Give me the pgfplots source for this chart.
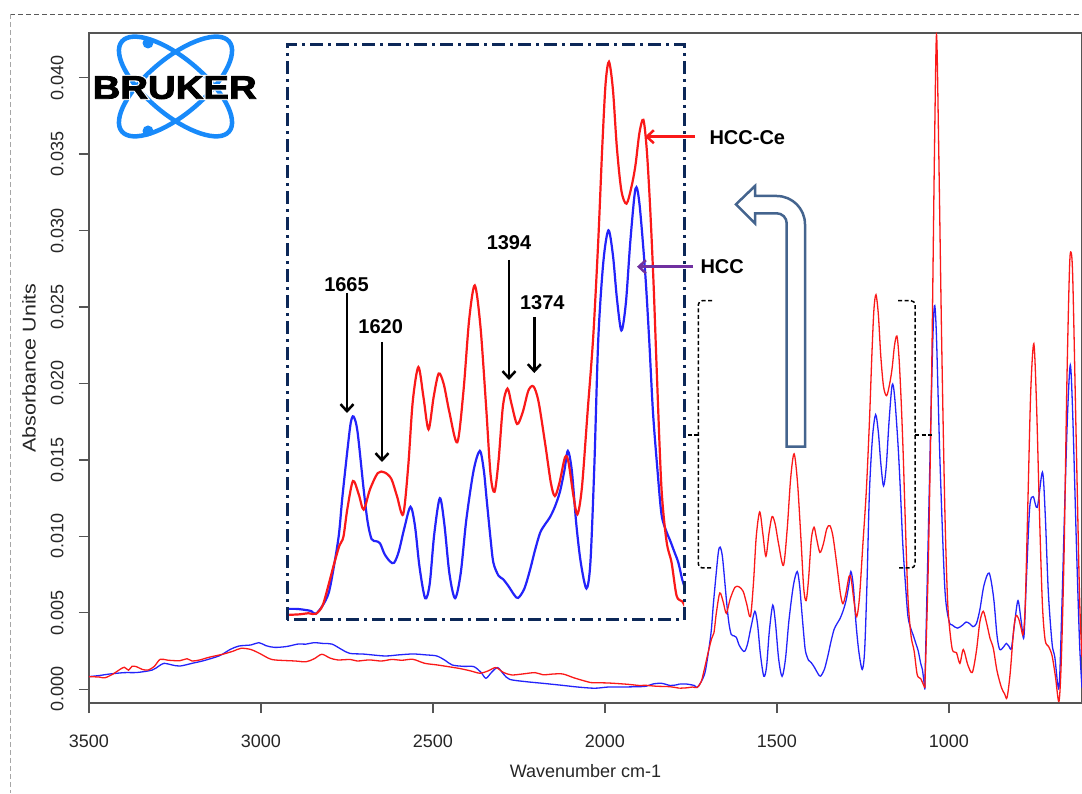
\documentclass[border=0pt]{standalone}
\usepackage{pgfplots}
\pgfplotsset{compat=1.18}
\usepackage{pgfplotstable}
\usepackage{fontspec}
\setmainfont{Liberation Sans}
\newfontface\logofont[RawFeature={embolden=2.5}]{Liberation Sans Bold}
\newfontface\logoback[RawFeature={embolden=9}]{Liberation Sans Bold}
\usetikzlibrary{arrows.meta}

\definecolor{specred}{RGB}{250,25,25}
\definecolor{specblue}{RGB}{35,35,250}
\definecolor{axisgray}{RGB}{85,85,85}
\definecolor{insetnavy}{RGB}{12,40,88}
\definecolor{steel}{RGB}{68,100,142}
\definecolor{hccpurple}{RGB}{112,48,160}
\definecolor{logoblue}{RGB}{24,138,250}

% HCC-Ce (red) and HCC (blue): wavenumber, absorbance
\pgfplotstableread{
w a
3500 0.00083
3470 0.00080
3454 0.00075
3430 0.00100
3410 0.00130
3397 0.00144
3385 0.00125
3375 0.00150
3362 0.00148
3345 0.00130
3328 0.00126
3310 0.00150
3293 0.00196
3270 0.00190
3236 0.00187
3215 0.00200
3200 0.00185
3178 0.00192
3150 0.00210
3110 0.00230
3080 0.00250
3058 0.00268
3029 0.00260
3000 0.00230
2980 0.00205
2960 0.00192
2900 0.00185
2869 0.00180
2845 0.00200
2823 0.00229
2800 0.00205
2777 0.00192
2740 0.00195
2720 0.00185
2685 0.00192
2650 0.00185
2620 0.00195
2590 0.00190
2558 0.00196
2524 0.00170
2490 0.00160
2455 0.00148
2420 0.00135
2390 0.00120
2363 0.00105
2340 0.00120
2317 0.00142
2295 0.00110
2271 0.00094
2240 0.00100
2203 0.00109
2180 0.00095
2150 0.00100
2122 0.00100
2090 0.00075
2060 0.00055
2042 0.00044
2000 0.00042
1973 0.00039
1930 0.00032
1900 0.00025
1881 0.00026
1850 0.00020
1812 0.00017
1783 0.00007
}\redA

\pgfplotstableread{
w a
1783 0.00007
1760 0.00010
1745 0.00015
1732 0.00012
1720 0.00050
1709 0.00150
1700 0.00240
1690 0.00330
1683 0.00370
1676 0.00500
1666 0.00630
1656 0.00570
1647 0.00497
1636 0.00590
1622 0.00667
1610 0.00670
1598 0.00640
1588 0.00560
1577 0.00475
1568 0.00700
1560 0.01000
1550 0.01160
1541 0.01020
1532 0.00870
1523 0.01020
1514 0.01130
1505 0.01080
1495 0.00950
1481 0.00810
1470 0.01050
1460 0.01380
1450 0.01540
1440 0.01350
1430 0.00980
1422 0.00660
1415 0.00580
1408 0.00720
1400 0.00980
1392 0.01060
1385 0.00990
1375 0.00895
1365 0.00950
1355 0.01050
1346 0.01070
1337 0.01000
1325 0.00800
1315 0.00620
1308 0.00560
1300 0.00620
1290 0.00740
1284 0.00720
1275 0.00560
1268 0.00475
1260 0.00600
1250 0.00950
1240 0.01300
1231 0.01750
1224 0.02180
1218 0.02480
1212 0.02580
1205 0.02450
1198 0.02180
1190 0.01980
1181 0.01920
1172 0.02000
1165 0.02100
1158 0.02250
1151 0.02310
1145 0.02170
1139 0.01900
1133 0.01550
1127 0.01120
1119 0.00600
1110 0.00350
1101 0.00250
1092 0.00095
1082 0.00070
1074 0.00030
1070 0.00010
}\redB

\pgfplotstableread{
w a
1070 0.00010
1060 0.00800
1050 0.02080
1042 0.03500
1036 0.04280
1030 0.03600
1021 0.02280
1012 0.01200
1005 0.00650
1000 0.00450
990 0.00260
978 0.00240
968 0.00170
958 0.00260
945 0.00160
932 0.00110
920 0.00250
910 0.00440
900 0.00510
890 0.00430
880 0.00330
871 0.00270
860 0.00120
847 0.00010
838 -0.00030
831 -0.00055
822 0.00100
812 0.00380
805 0.00480
797 0.00460
790 0.00400
784 0.00360
778 0.00550
770 0.01250
762 0.01950
753 0.02260
745 0.01850
736 0.01100
728 0.00550
720 0.00320
710 0.00280
700 0.00220
690 0.00080
680 -0.00080
673 0.00200
665 0.00900
657 0.02000
650 0.02700
646 0.02860
640 0.02700
630 0.01650
620 0.00600
613 0.00210
}\redC

\pgfplotstableread{
w a
3500 0.00083
3470 0.00090
3440 0.00100
3397 0.00109
3360 0.00110
3316 0.00126
3295 0.00155
3281 0.00170
3260 0.00160
3236 0.00152
3200 0.00170
3167 0.00187
3120 0.00220
3090 0.00260
3064 0.00283
3029 0.00290
3006 0.00305
2985 0.00285
2960 0.00274
2925 0.00280
2892 0.00296
2870 0.00295
2846 0.00305
2820 0.00300
2794 0.00296
2765 0.00260
2742 0.00235
2700 0.00230
2640 0.00218
2600 0.00225
2558 0.00231
2520 0.00225
2489 0.00218
2465 0.00190
2444 0.00159
2410 0.00150
2381 0.00148
2360 0.00110
2346 0.00072
2330 0.00110
2312 0.00142
2295 0.00100
2277 0.00065
2230 0.00050
2180 0.00039
2120 0.00025
2080 0.00015
2030 0.00007
1990 0.00015
1950 0.00015
1904 0.00017
1880 0.00020
1860 0.00035
1835 0.00039
1810 0.00025
1790 0.00030
1783 0.00035
}\blueA

\pgfplotstableread{
w a
1783 0.00035
1765 0.00035
1750 0.00030
1740 0.00025
1732 0.00012
1720 0.00050
1709 0.00110
1700 0.00230
1691 0.00380
1685 0.00550
1676 0.00770
1670 0.00900
1665 0.00930
1658 0.00860
1647 0.00590
1640 0.00440
1633 0.00360
1625 0.00350
1618 0.00340
1610 0.00290
1600 0.00255
1593 0.00250
1585 0.00300
1575 0.00410
1564 0.00510
1556 0.00420
1548 0.00230
1538 0.00085
1530 0.00150
1522 0.00380
1512 0.00550
1504 0.00430
1495 0.00200
1485 0.00085
1475 0.00200
1465 0.00450
1452 0.00680
1441 0.00770
1434 0.00680
1429 0.00546
1422 0.00360
1417 0.00250
1408 0.00190
1400 0.00174
1390 0.00140
1380 0.00100
1373 0.00086
1362 0.00130
1352 0.00217
1343 0.00310
1334 0.00390
1325 0.00430
1317 0.00460
1308 0.00510
1299 0.00580
1291 0.00680
1285 0.00770
1278 0.00680
1270 0.00430
1262 0.00250
1252 0.00130
1245 0.00250
1238 0.00700
1231 0.01290
1222 0.01650
1213 0.01796
1205 0.01680
1198 0.01480
1190 0.01330
1182 0.01460
1174 0.01750
1165 0.01990
1158 0.01920
1148 0.01605
1141 0.01300
1134 0.00950
1126 0.00680
1119 0.00477
1111 0.00400
1104 0.00356
1096 0.00300
1089 0.00250
1082 0.00170
1077 0.00130
1070 0.00000
}\blueB

\pgfplotstableread{
w a
1070 0.00000
1060 0.01000
1050 0.02000
1045 0.02400
1041 0.02510
1036 0.02300
1026 0.01500
1012 0.00670
1000 0.00450
990 0.00420
975 0.00400
960 0.00420
950 0.00440
940 0.00430
930 0.00410
920 0.00430
910 0.00520
898 0.00680
883 0.00760
870 0.00600
860 0.00350
852 0.00260
840 0.00280
833 0.00300
825 0.00280
818 0.00270
808 0.00450
799 0.00580
790 0.00450
782 0.00340
775 0.00700
765 0.01190
755 0.01260
743 0.01190
728 0.01420
720 0.01150
711 0.00640
700 0.00300
692 0.00210
680 0.00010
672 0.00500
663 0.01220
655 0.01800
647 0.02120
640 0.01800
629 0.00930
620 0.00300
613 0.00010
}\blueC

\begin{document}
\begin{tikzpicture}[x=1pt, y=1pt]
\path[use as bounding box] (0,0) rectangle (1082,793);

% outer dashed frame
\draw[black!65, line width=0.8pt, dash pattern=on 5pt off 3pt] (10,779) -- (1082,779);
\draw[black!35, line width=0.8pt, dash pattern=on 5pt off 3pt] (10,779) -- (10,0);

\begin{axis}[
    at={(89pt,90pt)}, anchor=south west,
    width=993pt, height=670pt, scale only axis,
    xmin=613, xmax=3500, x dir=reverse,
    ymin=-0.000896, ymax=0.04292,
    xtick={1000,1500,2000,2500,3000,3500},
    ytick={0,0.005,0.010,0.015,0.020,0.025,0.030,0.035,0.040},
    scaled y ticks=false,
    tick pos=left, tick align=outside, major tick length=10pt,
    axis line style={draw=axisgray, line width=1.3pt},
    tick style={draw=axisgray, line width=1.3pt},
    /pgf/number format/assume math mode=true,
    /pgf/number format/1000 sep={},
    every tick label/.append style={font=\fontsize{18}{20}\selectfont, text=black!85},
    xticklabel style={yshift=-18pt},
    yticklabel style={rotate=90, anchor=south, yshift=12pt,
      /pgf/number format/fixed, /pgf/number format/fixed zerofill,
      /pgf/number format/precision=3},
    xlabel={Wavenumber cm-1},
    ylabel={Absorbance Units},
    label style={font=\fontsize{18}{20}\selectfont, text=black!85},
    xlabel style={at={(axis description cs:0.5,0)}, anchor=center, yshift=-68pt},
    ylabel style={at={(axis description cs:0,0.5)}, anchor=center, yshift=60pt,
      xscale=1.16, font=\fontsize{18.5}{20}\selectfont},
  ]
  \addplot[specblue, line width=1.3pt, smooth, tension=0.5] table {\blueA};
  \addplot[specblue, line width=1.3pt, smooth, tension=0.5] table {\blueB};
  \addplot[specblue, line width=1.3pt, smooth, tension=0.5] table {\blueC};
  \addplot[specred, line width=1.3pt, smooth, tension=0.5] table {\redA};
  \addplot[specred, line width=1.3pt, smooth, tension=0.5] table {\redB};
  \addplot[specred, line width=1.3pt, smooth, tension=0.5] table {\redC};
\end{axis}

% inset: magnified 1780-1080 cm-1
\fill[white] (287,173) rectangle (684,748);
\begin{axis}[
    at={(287pt,173pt)}, anchor=south west,
    width=397pt, height=575pt, scale only axis,
    xmin=1079, xmax=1783, x dir=reverse,
    ymin=-0.000165, ymax=0.02658,
    hide axis,
  ]
  \addplot[specblue, line width=2.2pt, smooth, tension=0.5] table {\blueB};
  \addplot[specred, line width=2.2pt, smooth, tension=0.5] table {\redB};
\end{axis}
\draw[insetnavy, line width=3pt, dash pattern=on 13pt off 5pt on 3pt off 5pt] (287,173) rectangle (684,748);

% peak labels
\begin{scope}[font=\fontsize{20}{22}\selectfont\bfseries]
  \node at (346.5,508.5) {1665};
  \node at (380.7,466.4) {1620};
  \node at (509,550) {1394};
  \node at (542.3,490.5) {1374};
  \node[anchor=west] at (706,655) {HCC-Ce};
  \node[anchor=west] at (697,526) {HCC};
\end{scope}
\begin{scope}[line width=2.5pt, -{Straight Barb[length=7pt,width=13pt]}]
  \draw (347,500) -- (347,380);
  \draw (382,451) -- (382,331);
  \draw (509,533) -- (509,413);
  \draw (534.3,476) -- (534.3,420);
  \draw[specred] (695,656.3) -- (645,656.3);
  \draw[hccpurple] (693,526.3) -- (637,526.3);
\end{scope}

% brackets around the magnified region
\begin{scope}[black, line width=1.5pt, dash pattern=on 4pt off 2.5pt, rounded corners=4pt]
  \draw (712,492.3) -- (698.3,492.3) -- (698.3,358) -- (698.3,225) -- (712,225);
  \draw (698.3,358) -- (687,358);
  \draw (898,492.3) -- (915,492.3) -- (915,358) -- (915,225) -- (898,225);
  \draw (915,358) -- (931.7,358);
\end{scope}

% bent hollow arrow
\draw[steel, line width=2.5pt, fill=white, line join=miter]
  (786.7,346.3) -- (786.7,569.7) arc[start angle=0, end angle=90, radius=10pt]
  -- (755,579.7) -- (755,569.7) -- (736,588.7) -- (755,607) -- (755,597)
  -- (776.7,597) arc[start angle=90, end angle=0, radius=28.3pt]
  -- (805,346.3) -- cycle;

% logo
\draw[logoblue, line width=4.5pt, rotate around={-40:(175.5,706.5)}]
  (175.5,706.5) ellipse [x radius=70pt, y radius=28pt];
\draw[logoblue, line width=4.5pt, rotate around={40:(175.5,706.5)}]
  (175.5,706.5) ellipse [x radius=70pt, y radius=28pt];
\fill[logoblue] (148,750) circle (5.5pt);
\fill[logoblue] (148,662) circle (5.5pt);
\node[xscale=1.18, text=white, font=\fontsize{32.5}{34}\logoback] at (174.7,705.3) {BRUKER};
\node[xscale=1.18, text=black, font=\fontsize{32.5}{34}\logofont] at (174.7,705.3) {BRUKER};
\end{tikzpicture}
\end{document}
